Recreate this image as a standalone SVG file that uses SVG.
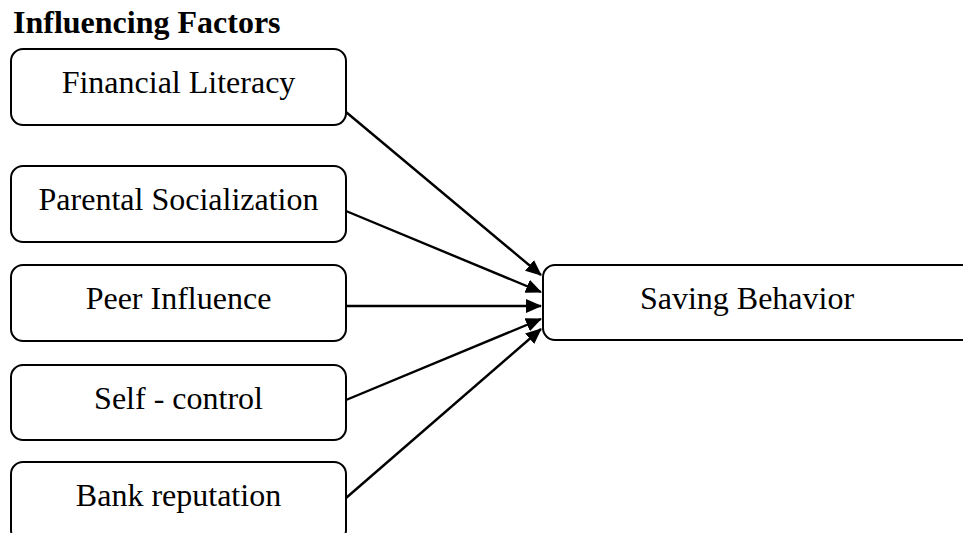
<svg xmlns="http://www.w3.org/2000/svg" width="963" height="533" viewBox="0 0 963 533">
<style>
.box{fill:#fff;stroke:#000;stroke-width:2}
.lbl{font-family:"Liberation Serif","Times New Roman",serif;font-size:32px;fill:#000;text-anchor:middle}
.ttl{font-family:"Liberation Serif","Times New Roman",serif;font-size:32px;font-weight:bold;fill:#000}
.con{stroke:#000;stroke-width:2.4;fill:none;marker-end:url(#ah)}
</style>
<defs>
<marker id="ah" markerUnits="userSpaceOnUse" markerWidth="18" markerHeight="16" refX="15" refY="7" orient="auto">
<path d="M0,0 L16,7 L0,14 z" fill="#000"/>
</marker>
</defs>
<rect width="963" height="533" fill="#fff"/>
<text class="ttl" x="13" y="33">Influencing Factors</text>
<g id="n-financial-literacy">
<rect class="box" x="11" y="49" width="335" height="76" rx="12"/>
<text class="lbl" x="178.5" y="93">Financial Literacy</text>
</g>
<g id="n-parental-socialization">
<rect class="box" x="11" y="166" width="335" height="76" rx="12"/>
<text class="lbl" x="178.5" y="210">Parental Socialization</text>
</g>
<g id="n-peer-influence">
<rect class="box" x="11" y="265" width="335" height="76" rx="12"/>
<text class="lbl" x="178.5" y="309">Peer Influence</text>
</g>
<g id="n-self-control">
<rect class="box" x="11" y="365" width="335" height="75" rx="12"/>
<text class="lbl" x="178.5" y="409">Self - control</text>
</g>
<g id="n-bank-reputation">
<rect class="box" x="11" y="462" width="335" height="80" rx="12"/>
<text class="lbl" x="178.5" y="506">Bank reputation</text>
</g>
<g id="n-saving-behavior">
<rect class="box" x="543" y="265" width="440" height="75" rx="12"/>
<text class="lbl" x="747" y="309">Saving Behavior</text>
</g>
<g id="connectors">
<line class="con" x1="346" y1="112" x2="541" y2="275"/>
<line class="con" x1="346" y1="211" x2="541" y2="292"/>
<line class="con" x1="346" y1="306" x2="541" y2="306"/>
<line class="con" x1="346" y1="400" x2="541" y2="319"/>
<line class="con" x1="346" y1="498" x2="541" y2="329"/>
</g>
</svg>
